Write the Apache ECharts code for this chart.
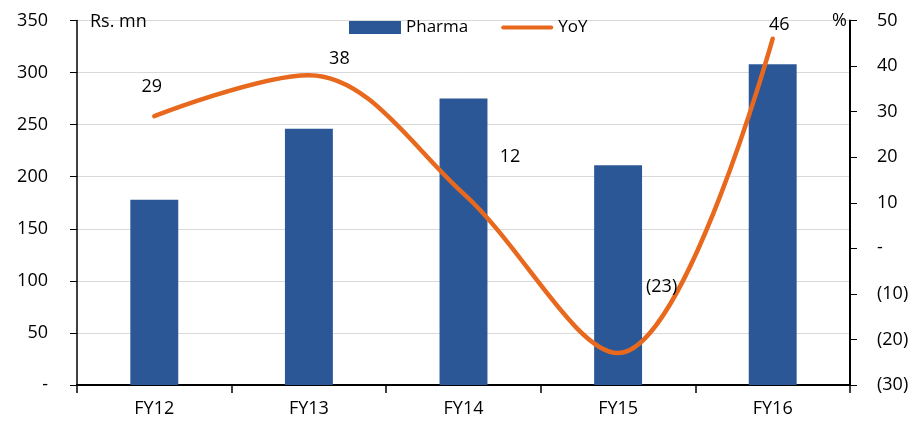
<!DOCTYPE html>
<html><head><meta charset="utf-8">
<script src="https://cdn.jsdelivr.net/npm/echarts@6/dist/echarts.min.js"></script>
<style>html,body{margin:0;padding:0;background:#fff}#c{width:915px;height:426px}</style>
</head><body><div id="c"></div>
<script>
const categories = ['FY12','FY13','FY14','FY15','FY16'];
const pharma = [178, 246, 275, 211, 308];
const yoy = [29, 38, 12, -23, 46];
const yoyLabels = ['29','38','12','(23)','46'];
const labelOffsets = [[-2,-29],[31,-16],[47,-36],[44,-66],[7,-13]];

const FONT = 'Open Sans';
const chart = echarts.init(document.getElementById('c'));
chart.setOption({
  animation:false,
  textStyle:{fontFamily:FONT},
  grid:{left:77,right:65,top:20.5,bottom:41},
  legend:{
    left:344, top:14, itemGap:33, itemWidth:52, itemHeight:13,
    textStyle:{fontFamily:FONT,fontSize:17,color:'#000'},
    data:[{name:'Pharma',icon:'rect'},
          {name:'YoY',icon:'path://M2,0L50,0A2,2 0 0 1 50,4L2,4A2,2 0 0 1 2,0Z'}]
  },
  graphic:[
    {type:'text',left:90,top:13,z:100,style:{text:'Rs. mn',font:'18px "Open Sans"',fill:'#000'}},
    {type:'text',left:832,top:12,z:100,style:{text:'%',font:'18px "Open Sans"',fill:'#000'}}
  ],
  xAxis:{
    type:'category',data:categories,
    axisLine:{lineStyle:{color:'#000',width:2}},
    axisTick:{show:true,length:8,lineStyle:{color:'#000',width:1.5}},
    axisLabel:{color:'#000',fontSize:18,margin:15,fontFamily:FONT}
  },
  yAxis:[
    {type:'value',min:0,max:350,interval:50,
     axisLine:{show:true,lineStyle:{color:'#000',width:1.5}},
     axisTick:{show:true,length:7,lineStyle:{color:'#000'}},
     splitLine:{lineStyle:{color:'#d9d9d9',width:1}},
     axisLabel:{color:'#000',fontSize:18,margin:29,fontFamily:FONT,
       formatter:v=>v===0?'-':String(v)}},
    {type:'value',min:-30,max:50,interval:10,
     axisLine:{show:true,lineStyle:{color:'#000',width:2}},
     axisTick:{show:true,length:7,lineStyle:{color:'#000'}},
     splitLine:{show:false},
     axisLabel:{color:'#000',fontSize:18,margin:27,align:'left',fontFamily:FONT,
       formatter:v=>v===0?'-':(v<0?'('+(-v)+')':String(v))}}
  ],
  series:[
    {name:'Pharma',type:'bar',data:pharma,barWidth:'31%',itemStyle:{color:'#2B5797'},yAxisIndex:0},
    {name:'YoY',type:'line',yAxisIndex:1,smooth:0.35,symbol:'circle',symbolSize:1,showSymbol:true,
     lineStyle:{color:'#E8691E',width:4.5,cap:'round'},itemStyle:{color:'#E8691E'},
     label:{show:true,position:[0,0],align:'center',verticalAlign:'middle',
       fontSize:18,color:'#000',fontFamily:FONT},
     data:yoy.map((v,i)=>({value:v,label:{formatter:yoyLabels[i],offset:labelOffsets[i]}}))}
  ]
});
</script></body></html>
